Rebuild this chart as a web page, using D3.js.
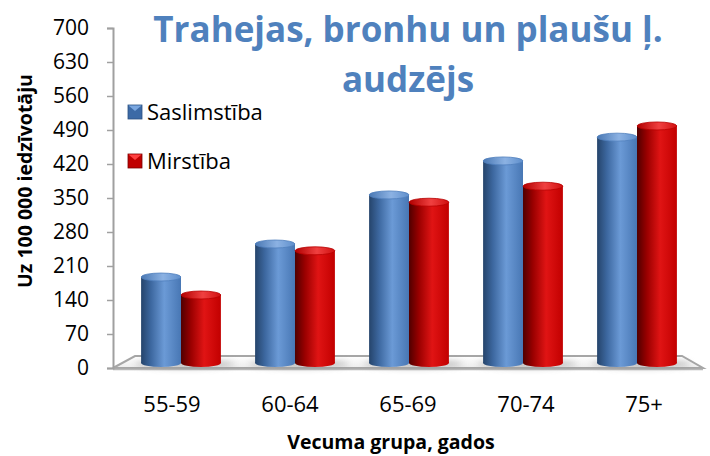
<!DOCTYPE html>
<html lang="lv">
<head>
<meta charset="utf-8">
<title>Trahejas, bronhu un plaušu ļ. audzējs</title>
<script src="https://d3js.org/d3.v7.min.js"></script>
<style>
  body { margin: 0; background: #fff; }
  svg { display: block; font-family: "Open Sans", "Noto Sans", sans-serif; }
</style>
</head>
<body>
<svg id="chart"></svg>
<script>
const categories = ["55-59", "60-64", "65-69", "70-74", "75+"];
const seriesNames = ["Saslimstība", "Mirstība"];
const incidence = [177, 245, 346, 416, 465];
const mortality = [140, 231, 331, 364, 488];
const yTicks = [0, 70, 140, 210, 280, 350, 420, 490, 560, 630, 700];

const w = 710, h = 456;
const svg = d3.select("#chart").attr("width", w).attr("height", h);

// front axis scale and the (slightly deeper) scale the bars stand on
const y = d3.scaleLinear().domain([0, 700]).range([368, 28]);
const yBar = d3.scaleLinear().domain([0, 700]).range([363, 23]);
const xCat = d3.scaleBand().domain(categories).range([113, 703]);
const xBar = d3.scaleBand().domain(categories).range([124, 694]).paddingInner(0.3).paddingOuter(0.15);
const xSub = d3.scaleBand().domain(seriesNames).range([0, xBar.bandwidth()]);

const defs = svg.append("defs");
function cylGrad(id, stops) {
  const g = defs.append("linearGradient").attr("id", id).attr("x1", 0).attr("x2", 1).attr("y1", 0).attr("y2", 0);
  stops.forEach(s => g.append("stop").attr("offset", s[0]).attr("stop-color", s[1]));
}
cylGrad("blueSide", [[0, "#25446b"], [0.25, "#3d68a0"], [0.58, "#6b9ad6"], [1, "#4877b4"]]);
cylGrad("redSide", [[0, "#500000"], [0.25, "#9a0000"], [0.58, "#e01414"], [1, "#c20000"]]);
cylGrad("blueTop", [[0, "#4a78b3"], [0.55, "#8cb2e3"], [1, "#5f8fcc"]]);
cylGrad("redTop", [[0, "#b00000"], [0.55, "#f04040"], [1, "#d01010"]]);

const floorGrad = defs.append("linearGradient").attr("id", "floor").attr("x1", 0).attr("x2", 0).attr("y1", 0).attr("y2", 1);
floorGrad.append("stop").attr("offset", 0).attr("stop-color", "#ffffff");
floorGrad.append("stop").attr("offset", 1).attr("stop-color", "#ececec");

defs.append("filter").attr("id", "blur").attr("x", "-30%").attr("y", "-100%").attr("width", "160%").attr("height", "300%")
  .append("feGaussianBlur").attr("stdDeviation", 3);

// floor
const x0 = xCat.range()[0], x1 = xCat.range()[1];
svg.append("polygon")
  .attr("points", [[x0, y(0)], [x0 + 22, y(0) - 12], [x1 - 21, y(0) - 12], [x1, y(0)]].join(" "))
  .attr("fill", "url(#floor)")
  .attr("stroke", "#a6a6a6")
  .attr("stroke-width", 2);
svg.append("line")
  .attr("x1", x0).attr("x2", x1).attr("y1", y(0) + 1.5).attr("y2", y(0) + 1.5)
  .attr("stroke", "#b8b8b8").attr("stroke-width", 1.5);

// bars
const rows = categories.map((c, i) => ({ cat: c, values: [incidence[i], mortality[i]] }));
const ry = 4;
const groups = svg.append("g").selectAll("g").data(rows).join("g")
  .attr("transform", d => `translate(${xBar(d.cat)},0)`);

groups.append("ellipse")
  .attr("cx", xBar.bandwidth() / 2 + 4)
  .attr("cy", yBar(0) + 1)
  .attr("rx", xBar.bandwidth() / 2 + 10)
  .attr("ry", 4)
  .attr("fill", "#9a9a9a")
  .attr("opacity", 0.6)
  .attr("filter", "url(#blur)");

const cyl = groups.selectAll("g.cyl").data(d => d.values.map((v, k) => ({ name: seriesNames[k], v: v, k: k })))
  .join("g").attr("class", "cyl")
  .attr("transform", d => `translate(${xSub(d.name)},0)`);

const bw = xSub.bandwidth();
cyl.append("rect")
  .attr("x", 0)
  .attr("width", bw)
  .attr("y", d => yBar(d.v))
  .attr("height", d => yBar(0) - yBar(d.v))
  .attr("fill", d => d.k === 0 ? "url(#blueSide)" : "url(#redSide)");
cyl.append("ellipse")
  .attr("cx", bw / 2).attr("cy", yBar(0))
  .attr("rx", bw / 2).attr("ry", ry)
  .attr("fill", d => d.k === 0 ? "url(#blueSide)" : "url(#redSide)");
cyl.append("ellipse")
  .attr("cx", bw / 2).attr("cy", d => yBar(d.v))
  .attr("rx", bw / 2).attr("ry", ry)
  .attr("fill", d => d.k === 0 ? "url(#blueTop)" : "url(#redTop)")
  .attr("stroke", d => d.k === 0 ? "#4f7fbc" : "#b80000")
  .attr("stroke-width", 0.8);

// y axis
const yAxis = svg.append("g")
  .attr("transform", `translate(${x0},0)`)
  .call(d3.axisLeft(y).tickValues(yTicks).tickSize(6).tickPadding(18));
yAxis.select(".domain").attr("stroke", "#a0a0a0").attr("stroke-width", 2);
yAxis.selectAll(".tick line").attr("stroke", "#a0a0a0").attr("stroke-width", 1.5);
yAxis.selectAll(".tick text")
  .attr("fill", "#000")
  .style("font-size", "21px")
  .style("font-family", "'Open Sans', sans-serif");

// category labels
svg.append("g").selectAll("text").data(categories).join("text")
  .attr("x", d => xCat(d) + xCat.bandwidth() / 2)
  .attr("y", 412)
  .attr("text-anchor", "middle")
  .attr("font-size", 22)
  .attr("fill", "#000")
  .text(d => d);

// axis titles
svg.append("text")
  .attr("x", 391).attr("y", 449)
  .attr("text-anchor", "middle")
  .attr("font-size", 19.5).attr("font-weight", "bold")
  .text("Vecuma grupa, gados");
svg.append("text")
  .attr("transform", "translate(32,181) rotate(-90)")
  .attr("text-anchor", "middle")
  .attr("font-size", 19.5).attr("font-weight", "bold")
  .text("Uz 100 000 iedzīvotāju");

// title
const title = svg.append("text")
  .attr("text-anchor", "middle")
  .attr("font-size", 35).attr("font-weight", "bold")
  .attr("fill", "#4f81bd");
title.append("tspan").attr("x", 408).attr("y", 42).text("Trahejas, bronhu un plaušu ļ.");
title.append("tspan").attr("x", 408).attr("y", 92).text("audzējs");

// legend
const legendColors = [["#3c6aa6", "#7aa7e0", "#2c5282"], ["#c00000", "#ff4040", "#7a0000"]];
const legend = svg.append("g").selectAll("g").data(seriesNames).join("g")
  .attr("transform", (d, i) => `translate(128,${105 + i * 49})`);
legend.append("rect")
  .attr("width", 14).attr("height", 14)
  .attr("fill", (d, i) => legendColors[i][0])
  .attr("stroke", (d, i) => legendColors[i][2]).attr("stroke-width", 0.8);
legend.append("path")
  .attr("d", "M0.5,0.5 L7,6 L13.5,0.5 Z")
  .attr("fill", (d, i) => legendColors[i][1]);
legend.append("text")
  .attr("x", 19).attr("y", 14.5)
  .attr("font-size", 22)
  .attr("fill", "#000")
  .text(d => d);
</script>
</body>
</html>
